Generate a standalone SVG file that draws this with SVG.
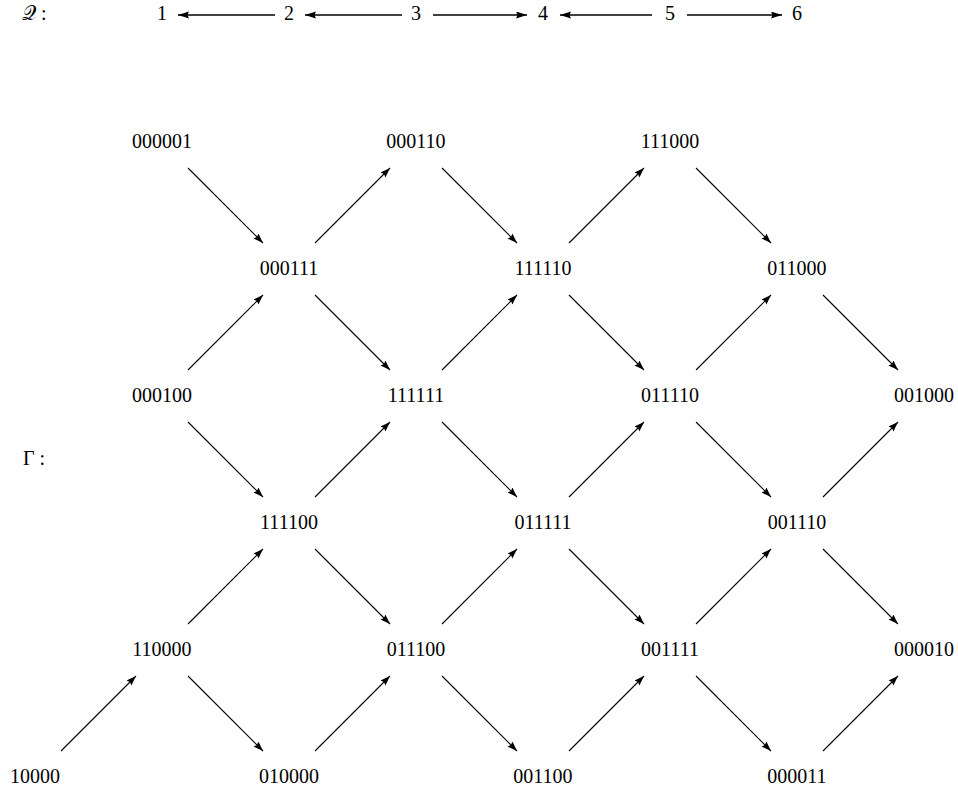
<svg xmlns="http://www.w3.org/2000/svg" width="958" height="789" viewBox="0 0 958 789">
<style>
text{font-family:"Liberation Serif","DejaVu Serif",serif;font-size:20px;fill:#000}
.n text{text-anchor:middle}
.e path{stroke:#000;stroke-width:1.1;fill:none;marker-end:url(#ah)}
.q path{stroke:#000;stroke-width:1.5;fill:none;marker-end:url(#ah2)}
</style>
<defs>
<marker id="ah" markerUnits="userSpaceOnUse" markerWidth="12" markerHeight="8" refX="10" refY="3.5" orient="auto">
<path d="M0,0 L10,3.5 L0,7 L1.5,3.5 z" fill="#000"/>
</marker>
<marker id="ah2" markerUnits="userSpaceOnUse" markerWidth="13" markerHeight="9" refX="11" refY="3.5" orient="auto">
<path d="M0,0 L11,3.5 L0,7 L1.5,3.5 z" fill="#000"/>
</marker>
</defs>
<g id="labels">
<text x="22" y="20">𝒬 :</text>
<text x="23" y="465">Γ :</text>
</g>
<g id="quiver" class="n">
<g id="q1"><text x="162" y="20">1</text></g>
<g id="q2"><text x="289" y="20">2</text></g>
<g id="q3"><text x="416" y="20">3</text></g>
<g id="q4"><text x="543" y="20">4</text></g>
<g id="q5"><text x="670" y="20">5</text></g>
<g id="q6"><text x="797" y="20">6</text></g>
</g>
<g id="quiver-arrows" class="q">
<path d="M275,15 L178,15"/>
<path d="M402,15 L305,15"/>
<path d="M433,15 L527,15"/>
<path d="M652,15 L560,15"/>
<path d="M687,15 L782,15"/>
</g>
<g id="nodes" class="n">
<g id="n000001"><text x="162" y="148">000001</text></g>
<g id="n000110"><text x="416" y="148">000110</text></g>
<g id="n111000"><text x="670" y="148">111000</text></g>
<g id="n000111"><text x="289" y="275">000111</text></g>
<g id="n111110"><text x="543" y="275">111110</text></g>
<g id="n011000"><text x="797" y="275">011000</text></g>
<g id="n000100"><text x="162" y="402">000100</text></g>
<g id="n111111"><text x="416" y="402">111111</text></g>
<g id="n011110"><text x="670" y="402">011110</text></g>
<g id="n001000"><text x="924" y="402">001000</text></g>
<g id="n111100"><text x="289" y="529">111100</text></g>
<g id="n011111"><text x="543" y="529">011111</text></g>
<g id="n001110"><text x="797" y="529">001110</text></g>
<g id="n110000"><text x="162" y="656">110000</text></g>
<g id="n011100"><text x="416" y="656">011100</text></g>
<g id="n001111"><text x="670" y="656">001111</text></g>
<g id="n000010"><text x="924" y="656">000010</text></g>
<g id="n10000"><text x="35" y="783">10000</text></g>
<g id="n010000"><text x="289" y="783">010000</text></g>
<g id="n001100"><text x="543" y="783">001100</text></g>
<g id="n000011"><text x="797" y="783">000011</text></g>
</g>
<g id="connectors" class="e">
<path d="M188,168 L263,243"/>
<path d="M315,243 L390,168"/>
<path d="M442,168 L517,243"/>
<path d="M569,243 L644,168"/>
<path d="M696,168 L771,243"/>
<path d="M188,370 L263,295"/>
<path d="M315,295 L390,370"/>
<path d="M442,370 L517,295"/>
<path d="M569,295 L644,370"/>
<path d="M696,370 L771,295"/>
<path d="M823,295 L898,370"/>
<path d="M188,422 L263,497"/>
<path d="M315,497 L390,422"/>
<path d="M442,422 L517,497"/>
<path d="M569,497 L644,422"/>
<path d="M696,422 L771,497"/>
<path d="M823,497 L898,422"/>
<path d="M188,624 L263,549"/>
<path d="M315,549 L390,624"/>
<path d="M442,624 L517,549"/>
<path d="M569,549 L644,624"/>
<path d="M696,624 L771,549"/>
<path d="M823,549 L898,624"/>
<path d="M61,751 L136,676"/>
<path d="M188,676 L263,751"/>
<path d="M315,751 L390,676"/>
<path d="M442,676 L517,751"/>
<path d="M569,751 L644,676"/>
<path d="M696,676 L771,751"/>
<path d="M823,751 L898,676"/>
</g>
</svg>
